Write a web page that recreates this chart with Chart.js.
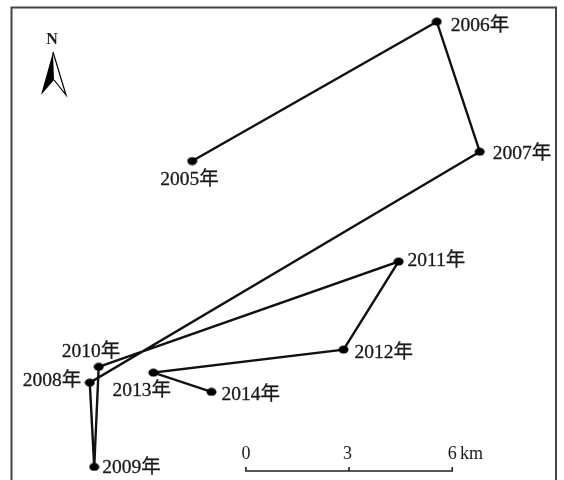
<!DOCTYPE html>
<html>
<head>
<meta charset="utf-8">
<title>2005-2014</title>
<script src="https://cdn.jsdelivr.net/npm/chart.js@4"></script>
<style>
  html, body { margin: 0; padding: 0; background: #fff; }
  canvas { display: block; }
</style>
</head>
<body>
<canvas id="grafico" width="564" height="480"></canvas>
<script>
// Dados, em km (leste / norte)
const anos = ["2005年", "2006年", "2007年", "2008年", "2009年", "2010年", "2011年", "2012年", "2013年", "2014年"];
const leste = [5.59, 12.70, 13.95, 2.61, 2.74, 2.87, 11.59, 9.99, 4.46, 6.15];
const norte = [9.27, 13.32, 9.54, 2.83, 0.38, 3.29, 6.35, 3.79, 3.12, 2.56];

// Barra de escala
const escalaKm = [0, 3, 6];
const escalaInicio = 7.15;
const escalaBase = 0.26;
const escalaTopo = 0.38;

// Limites do mapa em km
const larguraKm = 16.4;
const alturaKm = 13.95;

// Deslocamento dos rótulos em relação ao ponto (px)
const deslocX = [-32, 14, 13, -67, 8, -37, 9, 11, -41, 10];
const deslocY = [19, 4, 2, -2, 1, -15, -1, 3, 18, 3];

const fonte = '"Liberation Serif", "Noto Sans CJK SC", serif';

const trajeto = anos.map((_, i) => ({ x: leste[i], y: norte[i] }));

const barra = [];
escalaKm.forEach((km, i) => {
  const x = escalaInicio + km;
  if (i > 0) barra.push({ x: x, y: escalaBase });
  barra.push({ x: x, y: escalaTopo });
  if (i < escalaKm.length - 1) barra.push({ x: x, y: escalaBase });
});

// Marcador um pouco achatado, como na figura
const marcador = document.createElement("canvas");
marcador.width = 11;
marcador.height = 9;
const m = marcador.getContext("2d");
m.fillStyle = "#000";
m.beginPath();
m.ellipse(5.5, 4.5, 5, 4, 0, 0, Math.PI * 2);
m.fill();

const decoracao = {
  id: "decoracao",
  afterDatasetsDraw(chart) {
    const ctx = chart.ctx;
    const sx = chart.scales.x;
    const sy = chart.scales.y;
    ctx.save();

    // Moldura (aberta embaixo)
    ctx.strokeStyle = "#444";
    ctx.lineWidth = 2;
    ctx.beginPath();
    ctx.moveTo(11.5, 480);
    ctx.lineTo(11.5, 7.5);
    ctx.lineTo(556, 7.5);
    ctx.lineTo(556, 480);
    ctx.stroke();

    // Rótulos dos anos
    ctx.fillStyle = "#1a1a1a";
    ctx.strokeStyle = "#1a1a1a";
    ctx.lineWidth = 0.3;
    ctx.font = "19.5px " + fonte;
    ctx.textAlign = "left";
    ctx.textBaseline = "middle";
    anos.forEach((ano, i) => {
      const px = sx.getPixelForValue(leste[i]) + deslocX[i];
      const py = sy.getPixelForValue(norte[i]) + deslocY[i];
      ctx.fillText(ano, px, py);
      ctx.strokeText(ano, px, py);
    });

    // Textos da escala
    ctx.font = "18px " + fonte;
    ctx.textAlign = "center";
    escalaKm.forEach(km => {
      ctx.fillText(String(km), sx.getPixelForValue(escalaInicio + km) - (km === 3 ? 1.5 : 0), 454);
    });
    ctx.textAlign = "left";
    ctx.fillText("km", 460, 454);

    // Seta do norte
    ctx.font = "bold 16px " + fonte;
    ctx.textAlign = "center";
    ctx.fillText("N", 52, 40);
    ctx.fillStyle = "#000";
    ctx.beginPath();
    ctx.moveTo(53, 52);
    ctx.lineTo(41, 95);
    ctx.lineTo(54, 80);
    ctx.closePath();
    ctx.fill();
    ctx.strokeStyle = "#000";
    ctx.lineWidth = 1.2;
    ctx.beginPath();
    ctx.moveTo(53, 52);
    ctx.lineTo(66, 95);
    ctx.lineTo(54, 80);
    ctx.stroke();

    ctx.restore();
  }
};

new Chart(document.getElementById("grafico"), {
  type: "scatter",
  data: {
    datasets: [
      {
        label: "Trajeto",
        data: trajeto,
        showLine: true,
        borderColor: "#111",
        borderWidth: 2.4,
        tension: 0,
        pointStyle: marcador,
        pointRadius: 5,
        pointHoverRadius: 5
      },
      {
        label: "Escala",
        data: barra,
        showLine: true,
        borderColor: "#222",
        borderWidth: 1.6,
        tension: 0,
        pointRadius: 0
      }
    ]
  },
  options: {
    responsive: false,
    animation: false,
    layout: { padding: 0, autoPadding: false },
    plugins: {
      legend: { display: false },
      tooltip: { enabled: false }
    },
    scales: {
      x: { type: "linear", min: 0, max: larguraKm, display: false },
      y: { type: "linear", min: 0, max: alturaKm, display: false }
    }
  },
  plugins: [decoracao]
});
</script>
</body>
</html>
